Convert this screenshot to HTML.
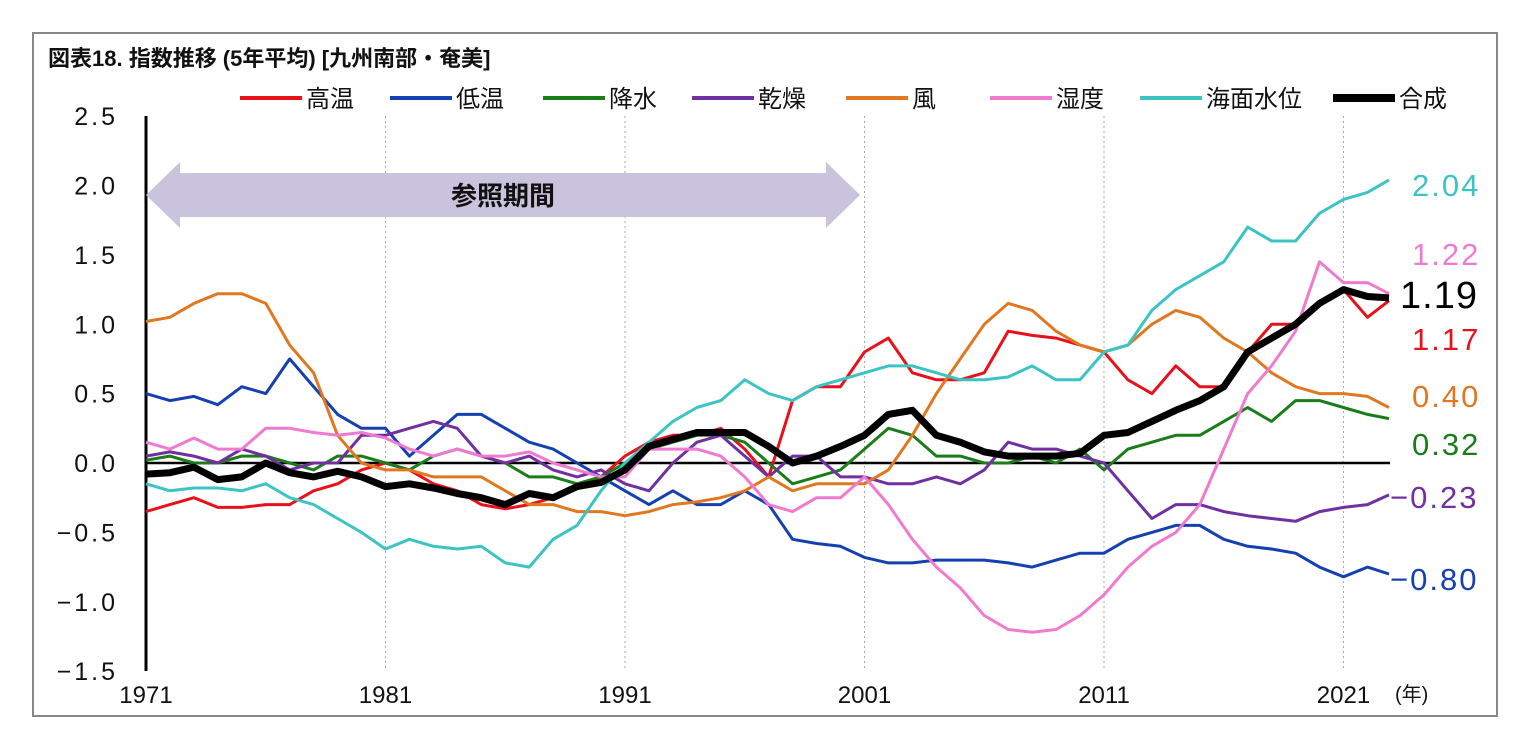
<!DOCTYPE html>
<html><head><meta charset="utf-8"><style>
body{margin:0;background:#fff;width:1524px;height:745px;overflow:hidden}
svg text{font-family:"Liberation Sans","Noto Sans CJK JP",sans-serif}
</style></head><body>
<svg id="c" width="1524" height="745">
<rect x="33" y="33" width="1464" height="683" fill="#fff" stroke="#888" stroke-width="2"/>
<text x="48" y="66" font-size="22" font-weight="bold" fill="#111">図表18. 指数推移 (5年平均) [九州南部・奄美]</text>
<g id="grid"></g><g id="axes"></g><g id="arrow"></g><g id="lines"></g><g id="legend"></g><g id="labels"></g>
</svg>
<script>
const years=[1971,1972,1973,1974,1975,1976,1977,1978,1979,1980,1981,1982,1983,1984,1985,1986,1987,1988,1989,1990,1991,1992,1993,1994,1995,1996,1997,1998,1999,2000,2001,2002,2003,2004,2005,2006,2007,2008,2009,2010,2011,2012,2013,2014,2015,2016,2017,2018,2019,2020,2021,2022,2022.9];
const seriesNames=["高温","低温","降水","乾燥","風","湿度","海面水位","合成"];
const highTemp=[-0.35,-0.3,-0.25,-0.32,-0.32,-0.3,-0.3,-0.2,-0.15,-0.05,0,-0.05,-0.15,-0.2,-0.3,-0.33,-0.3,-0.25,-0.15,-0.1,0.05,0.15,0.2,0.2,0.25,0.1,-0.1,0.45,0.55,0.55,0.8,0.9,0.65,0.6,0.6,0.65,0.95,0.92,0.9,0.85,0.8,0.6,0.5,0.7,0.55,0.55,0.8,1.0,1.0,1.15,1.25,1.05,1.17];
const lowTemp=[0.5,0.45,0.48,0.42,0.55,0.5,0.75,0.55,0.35,0.25,0.25,0.05,0.2,0.35,0.35,0.25,0.15,0.1,0,-0.1,-0.2,-0.3,-0.2,-0.3,-0.3,-0.2,-0.3,-0.55,-0.58,-0.6,-0.68,-0.72,-0.72,-0.7,-0.7,-0.7,-0.72,-0.75,-0.7,-0.65,-0.65,-0.55,-0.5,-0.45,-0.45,-0.55,-0.6,-0.62,-0.65,-0.75,-0.82,-0.75,-0.80];
const rain=[0.02,0.05,0,0,0.05,0.05,0,-0.05,0.05,0.05,0,-0.05,0.05,0.1,0.05,0,-0.1,-0.1,-0.15,-0.1,0,0.1,0.15,0.2,0.2,0.15,0,-0.15,-0.1,-0.05,0.1,0.25,0.2,0.05,0.05,0,0,0.05,0,0.1,-0.05,0.1,0.15,0.2,0.2,0.3,0.4,0.3,0.45,0.45,0.4,0.35,0.32];
const dry=[0.05,0.08,0.05,0,0.1,0.05,-0.05,0,0,0.2,0.2,0.25,0.3,0.25,0.05,0,0.05,-0.05,-0.1,-0.05,-0.15,-0.2,0,0.15,0.2,0.05,-0.1,0.05,0.05,-0.1,-0.1,-0.15,-0.15,-0.1,-0.15,-0.05,0.15,0.1,0.1,0.05,0,-0.2,-0.4,-0.3,-0.3,-0.35,-0.38,-0.4,-0.42,-0.35,-0.32,-0.3,-0.23];
const wind=[1.02,1.05,1.15,1.22,1.22,1.15,0.85,0.65,0.2,0,-0.05,-0.05,-0.1,-0.1,-0.1,-0.2,-0.3,-0.3,-0.35,-0.35,-0.38,-0.35,-0.3,-0.28,-0.25,-0.2,-0.1,-0.2,-0.15,-0.15,-0.15,-0.05,0.2,0.5,0.75,1.0,1.15,1.1,0.95,0.85,0.8,0.85,1.0,1.1,1.05,0.9,0.8,0.65,0.55,0.5,0.5,0.48,0.40];
const humid=[0.15,0.1,0.18,0.1,0.1,0.25,0.25,0.22,0.2,0.22,0.18,0.1,0.05,0.1,0.05,0.05,0.08,0,-0.05,-0.1,-0.1,0.1,0.1,0.1,0.05,-0.1,-0.3,-0.35,-0.25,-0.25,-0.1,-0.3,-0.55,-0.75,-0.9,-1.1,-1.2,-1.22,-1.2,-1.1,-0.95,-0.75,-0.6,-0.5,-0.3,0.1,0.5,0.7,0.95,1.45,1.3,1.3,1.22];
const seaLevel=[-0.15,-0.2,-0.18,-0.18,-0.2,-0.15,-0.25,-0.3,-0.4,-0.5,-0.62,-0.55,-0.6,-0.62,-0.6,-0.72,-0.75,-0.55,-0.45,-0.2,0,0.15,0.3,0.4,0.45,0.6,0.5,0.45,0.55,0.6,0.65,0.7,0.7,0.65,0.6,0.6,0.62,0.7,0.6,0.6,0.8,0.85,1.1,1.25,1.35,1.45,1.7,1.6,1.6,1.8,1.9,1.95,2.04];
const composite=[-0.08,-0.07,-0.03,-0.12,-0.1,0,-0.07,-0.1,-0.06,-0.1,-0.17,-0.15,-0.18,-0.22,-0.25,-0.3,-0.22,-0.25,-0.17,-0.14,-0.05,0.12,0.17,0.22,0.22,0.22,0.12,0,0.05,0.12,0.2,0.35,0.38,0.2,0.15,0.08,0.05,0.05,0.05,0.07,0.2,0.22,0.3,0.38,0.45,0.55,0.8,0.9,1.0,1.15,1.25,1.2,1.19];
const yTicks=[2.5,2.0,1.5,1.0,0.5,0.0,-0.5,-1.0,-1.5];
const yTickLabels=["2.5","2.0","1.5","1.0","0.5","0.0","−0.5","−1.0","−1.5"];
const xTicks=[1971,1981,1991,2001,2011,2021];
const endLabels=["1.17","−0.80","0.32","−0.23","0.40","1.22","2.04","1.19"];

const X=y=>146+(y-1971)*23.95;
const Y=v=>463-v*138.75;
const NS="http://www.w3.org/2000/svg";
function mk(tag,attrs,parent,txt){const e=document.createElementNS(NS,tag);for(const k in attrs)e.setAttribute(k,attrs[k]);if(txt!==undefined)e.textContent=txt;document.getElementById(parent).appendChild(e);return e;}

xTicks.forEach((t,i)=>{
  if(i>0){const g=mk('line',{x1:X(t),x2:X(t),y1:116,y2:671,stroke:'#aaa','stroke-dasharray':'2,3'},'grid');
  
  }
  const l=mk('text',{x:X(t),y:703,'font-size':24,'text-anchor':'middle',fill:'#111'},'axes',t);
  
  
});
const yu=mk('text',{x:1395,y:701,'font-size':20,fill:'#111'},'axes','(年)');


yTicks.forEach((t,i)=>{
  const l=mk('text',{x:118,y:Y(t)+9,'font-size':25,'text-anchor':'end',fill:'#111','letter-spacing':'3'},'axes',yTickLabels[i]);
  
  
});
const ya=mk('line',{x1:146,x2:146,y1:116,y2:671,stroke:'#000','stroke-width':3},'axes');


const zl=mk('line',{x1:146,x2:1390,y1:Y(0),y2:Y(0),stroke:'#000','stroke-width':2.5},'axes');



const ar=mk('polygon',{points:`146,195 180,162 180,173 826,173 826,162 860,195 826,228 826,217 180,217 180,228`,fill:'#c9c3dd'},'arrow');


const at=mk('text',{x:503,y:205,'font-size':26,'font-weight':'bold','text-anchor':'middle',fill:'#111'},'arrow','参照期間');



const data=[highTemp,lowTemp,rain,dry,wind,humid,seaLevel,composite];
const colors=['#e8111b','#1540b0','#1a7d1a','#7030a0','#e07820','#f07ad0','#3cc4c4','#000'];
const widths=[3,3,3,3,3,3,3,7];
const keys=['high-temp','low-temp','rain','dry','wind','humidity','sea-level','composite'];
data.forEach((d,i)=>{
  const pts=d.map((v,j)=>X(years[j]).toFixed(1)+','+Y(v).toFixed(1)).join(' ');
  const p=mk('polyline',{points:pts,fill:'none',stroke:colors[i],'stroke-width':widths[i],'stroke-linejoin':'round'},'lines');
  
  
});
const legX=[240,390,543,692,846,990,1140,1333];
seriesNames.forEach((n,i)=>{
  const ln=mk('line',{x1:legX[i],x2:legX[i]+62,y1:98,y2:98,stroke:colors[i],'stroke-width':i==7?8:4},'legend');
  
  
  const t=mk('text',{x:legX[i]+66,y:107,'font-size':24,fill:'#111'},'legend',n);
  
  
});
const labY=[350,590,455,508,407,265,196,308];
const labX=[1412,1390,1412,1390,1412,1412,1412,1400];
endLabels.forEach((s,i)=>{
  const t=mk('text',{x:labX[i],y:labY[i],'font-size':i==7?38:31,fill:colors[i],'letter-spacing':i==7?'1':'2'},'labels',s);
  
  
});
</script>
</body></html>
